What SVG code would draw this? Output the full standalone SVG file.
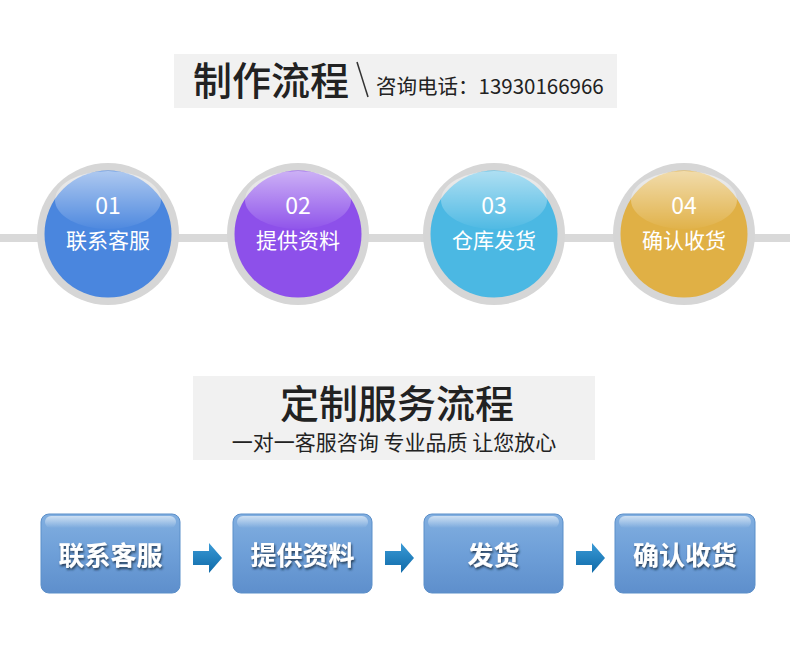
<svg xmlns="http://www.w3.org/2000/svg" width="790" height="661" viewBox="0 0 790 661">
<style>
text{font-family:"Noto Sans CJK SC","Noto Sans",sans-serif}
.banner{fill:#f1f1f1}
.ring{fill:#d6d6d6}
.num{fill:#fff;font-size:23px;text-anchor:middle}
.lbl{fill:#fff;font-size:21px;text-anchor:middle}
.btn{fill:url(#btnG);stroke:#5b8fc9;stroke-width:1}
.btxt{fill:#fff;font-size:26px;font-weight:bold;text-anchor:middle;filter:url(#sh)}
.arr{fill:url(#arrG)}
.gl{fill:url(#gloss)}
</style>
<defs>
<linearGradient id="gloss" x1="0" y1="0" x2="0" y2="1">
<stop offset="0" stop-color="#fff" stop-opacity="0.55"/>
<stop offset="1" stop-color="#fff" stop-opacity="0.03"/>
</linearGradient>
<linearGradient id="btnG" x1="0" y1="0" x2="0" y2="1">
<stop offset="0" stop-color="#82afe0"/>
<stop offset="0.5" stop-color="#6e9fd8"/>
<stop offset="1" stop-color="#5e8fcc"/>
</linearGradient>
<linearGradient id="btnGl" x1="0" y1="0" x2="0" y2="1">
<stop offset="0" stop-color="#fff" stop-opacity="0.6"/>
<stop offset="1" stop-color="#fff" stop-opacity="0"/>
</linearGradient>
<linearGradient id="arrG" x1="0" y1="0" x2="0" y2="1">
<stop offset="0" stop-color="#3a9ad6"/>
<stop offset="1" stop-color="#0f6aa8"/>
</linearGradient>
<filter id="sh" x="-10%" y="-20%" width="130%" height="150%">
<feDropShadow dx="1" dy="2" stdDeviation="1" flood-color="#1a2a40" flood-opacity="0.8"/>
</filter>
</defs>
<rect width="790" height="661" fill="#fff"/>

<g id="header1">
<rect class="banner" x="174" y="54" width="443" height="54"/>
<text x="193" y="95" font-size="39" font-weight="500" fill="#222">制作流程</text>
<line x1="357" y1="62" x2="368" y2="97" stroke="#333" stroke-width="1.5"/>
<text x="376" y="94" font-size="20.5" fill="#222">咨询电话：13930166966</text>
</g>

<g id="connectors">
<rect x="0" y="234" width="790" height="8" fill="#d9d9d9"/>
<path class="arr" d="M193,551 h16 v-8 l13,15 l-13,15 v-8 h-16 z"/>
<path class="arr" d="M385,551 h16 v-8 l13,15 l-13,15 v-8 h-16 z"/>
<path class="arr" d="M576,551 h16 v-8 l13,15 l-13,15 v-8 h-16 z"/>
</g>

<g id="step1">
<circle class="ring" cx="108" cy="234" r="71"/>
<circle cx="108" cy="234" r="63.5" fill="#4a86de"/>
<ellipse class="gl" cx="108" cy="200" rx="53" ry="29"/>
<text class="num" x="108" y="214">01</text>
<text class="lbl" x="108" y="248">联系客服</text>
</g>
<g id="step2">
<circle class="ring" cx="298" cy="234" r="71"/>
<circle cx="298" cy="234" r="63.5" fill="#8d50ea"/>
<ellipse class="gl" cx="298" cy="200" rx="53" ry="29"/>
<text class="num" x="298" y="214">02</text>
<text class="lbl" x="298" y="248">提供资料</text>
</g>
<g id="step3">
<circle class="ring" cx="494" cy="234" r="71"/>
<circle cx="494" cy="234" r="63.5" fill="#4bb8e3"/>
<ellipse class="gl" cx="494" cy="200" rx="53" ry="29"/>
<text class="num" x="494" y="214">03</text>
<text class="lbl" x="494" y="248">仓库发货</text>
</g>
<g id="step4">
<circle class="ring" cx="684" cy="234" r="71"/>
<circle cx="684" cy="234" r="63.5" fill="#e0b045"/>
<ellipse class="gl" cx="684" cy="200" rx="53" ry="29"/>
<text class="num" x="684" y="214">04</text>
<text class="lbl" x="684" y="248">确认收货</text>
</g>

<g id="header2">
<rect class="banner" x="193" y="376" width="402" height="84"/>
<text x="397" y="418" font-size="39" font-weight="500" fill="#222" text-anchor="middle">定制服务流程</text>
<text x="394" y="450" font-size="21" fill="#222" text-anchor="middle">一对一客服咨询 专业品质 让您放心</text>
</g>

<g id="box1">
<rect class="btn" x="41" y="514" width="139" height="79" rx="8"/>
<rect x="45" y="516" width="131" height="12" rx="6" fill="url(#btnGl)"/>
<text class="btxt" x="110.5" y="565">联系客服</text>
</g>
<g id="box2">
<rect class="btn" x="233" y="514" width="139" height="79" rx="8"/>
<rect x="237" y="516" width="131" height="12" rx="6" fill="url(#btnGl)"/>
<text class="btxt" x="302.5" y="565">提供资料</text>
</g>
<g id="box3">
<rect class="btn" x="424" y="514" width="139" height="79" rx="8"/>
<rect x="428" y="516" width="131" height="12" rx="6" fill="url(#btnGl)"/>
<text class="btxt" x="493.5" y="565">发货</text>
</g>
<g id="box4">
<rect class="btn" x="615" y="514" width="140" height="79" rx="8"/>
<rect x="619" y="516" width="132" height="12" rx="6" fill="url(#btnGl)"/>
<text class="btxt" x="685" y="565">确认收货</text>
</g>
</svg>
